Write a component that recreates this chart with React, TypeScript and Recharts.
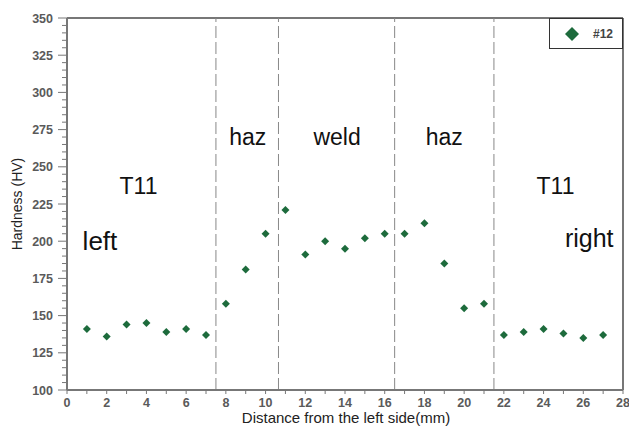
import React from 'react';
import { ScatterChart, Scatter, XAxis, YAxis, ReferenceLine, ReferenceDot } from 'recharts';

const distances = [1, 2, 3, 4, 5, 6, 7, 8, 9, 10, 11, 12, 13, 14, 15, 16, 17, 18, 19, 20, 21, 22, 23, 24, 25, 26, 27];
const hardness = [141, 136, 144, 145, 139, 141, 137, 158, 181, 205, 221, 191, 200, 195, 202, 205, 205, 212, 185, 155, 158, 137, 139, 141, 138, 135, 137];
const zoneBoundaries = [7.5, 10.65, 16.5, 21.5];
const xTicks = [0, 1, 2, 3, 4, 5, 6, 7, 8, 9, 10, 11, 12, 13, 14, 15, 16, 17, 18, 19, 20, 21, 22, 23, 24, 25, 26, 27, 28];
const yTicks = [100, 105, 110, 115, 120, 125, 130, 135, 140, 145, 150, 155, 160, 165, 170, 175, 180, 185, 190, 195, 200, 205, 210, 215, 220, 225, 230, 235, 240, 245, 250, 255, 260, 265, 270, 275, 280, 285, 290, 295, 300, 305, 310, 315, 320, 325, 330, 335, 340, 345, 350];
const seriesName = '#12';

const data = distances.map((d, i) => ({ x: d, y: hardness[i] }));

const FONT = '"Liberation Sans", Arial, sans-serif';
const GREEN = '#1d6b3c';
const AXIS = '#777';

const Diamond = (props: any) => {
  const { cx, cy } = props;
  const r = 4;
  return <polygon points={`${cx},${cy - r} ${cx + r},${cy} ${cx},${cy + r} ${cx - r},${cy}`} fill={GREEN} />;
};

const YTick = (props: any) => {
  const { x, y, payload } = props;
  const v = payload.value;
  const major = v % 25 === 0;
  return (
    <g>
      <line x1={x - (major ? 9 : 5)} x2={x} y1={y} y2={y} stroke={AXIS} strokeWidth={1} />
      {major && (
        <text x={x - 14} y={y + 4.5} textAnchor="end" fontSize={12.5} fontWeight="bold" fill="#5a5a5a" fontFamily={FONT}>
          {v}
        </text>
      )}
    </g>
  );
};

const XTick = (props: any) => {
  const { x, y, payload } = props;
  const v = payload.value;
  const major = v % 2 === 0;
  return (
    <g>
      <line x1={x} x2={x} y1={y} y2={y + 4} stroke={AXIS} strokeWidth={1} />
      {major && (
        <text x={x} y={y + 17} textAnchor="middle" fontSize={12.5} fontWeight="bold" fill="#5a5a5a" fontFamily={FONT}>
          {v}
        </text>
      )}
    </g>
  );
};

const textShape = (label: string, size: number) => (props: any) => (
  <text x={props.cx} y={props.cy} textAnchor="middle" fontSize={size} fill="#111" fontFamily={FONT}>
    {label}
  </text>
);

const LegendBox = () => (
  <div style={{ position: 'absolute', left: 549, top: 18, width: 74, height: 31, border: '1.5px solid #333', boxSizing: 'border-box', background: '#fff' }}>
    <svg width={71} height={28} style={{ position: 'absolute', left: 0, top: 0 }}>
      <polygon points="22,8 29,15 22,22 15,15" fill={GREEN} />
      <text x={43} y={19} fontSize={12} fontWeight="bold" fill="#444" fontFamily={FONT}>
        {seriesName}
      </text>
    </svg>
  </div>
);

export default function App() {
  return (
    <div style={{ position: 'absolute', left: 0, top: 0, width: 629, height: 429, background: '#fff' }}>
      <ScatterChart width={629} height={429} margin={{ top: 18, right: 6, left: 0, bottom: 0 }}>
        <XAxis
          type="number"
          dataKey="x"
          domain={[0, 28]}
          ticks={xTicks}
          interval={0}
          tickSize={0}
          tickMargin={0}
          tickLine={false}
          height={39}
          tick={<XTick />}
          axisLine={{ stroke: AXIS, strokeWidth: 2 }}
          label={{
            content: () => (
              <text x={346} y={423} textAnchor="middle" fontSize={15} fill="#222" fontFamily={FONT}>
                Distance from the left side(mm)
              </text>
            ),
          }}
        />
        <YAxis
          type="number"
          dataKey="y"
          domain={[100, 350]}
          ticks={yTicks}
          interval={0}
          tickSize={0}
          tickMargin={0}
          tickLine={false}
          width={67}
          tick={<YTick />}
          axisLine={{ stroke: AXIS, strokeWidth: 2 }}
          label={{
            content: () => (
              <text x={22} y={204} transform="rotate(-90 22 204)" textAnchor="middle" fontSize={14} fill="#222" fontFamily={FONT}>
                Hardness (HV)
              </text>
            ),
          }}
        />
        <ReferenceLine y={350} stroke={AXIS} strokeWidth={2} />
        <ReferenceLine x={28} stroke={AXIS} strokeWidth={2} />
        {zoneBoundaries.map((b) => (
          <ReferenceLine key={b} x={b} stroke="#888" strokeWidth={1} strokeDasharray="12 4" />
        ))}
        <ReferenceDot x={3.6} y={231.7} r={0} shape={textShape('T11', 23)} />
        <ReferenceDot x={9.1} y={264.7} r={0} shape={textShape('haz', 23)} />
        <ReferenceDot x={13.6} y={264.7} r={0} shape={textShape('weld', 23)} />
        <ReferenceDot x={19.0} y={264.7} r={0} shape={textShape('haz', 23)} />
        <ReferenceDot x={24.6} y={231.7} r={0} shape={textShape('T11', 23)} />
        <ReferenceDot x={1.66} y={194.1} r={0} shape={textShape('left', 26)} />
        <ReferenceDot x={26.3} y={196.1} r={0} shape={textShape('right', 25)} />
        <Scatter name={seriesName} data={data} shape={<Diamond />} isAnimationActive={false} />
      </ScatterChart>
      <LegendBox />
    </div>
  );
}
